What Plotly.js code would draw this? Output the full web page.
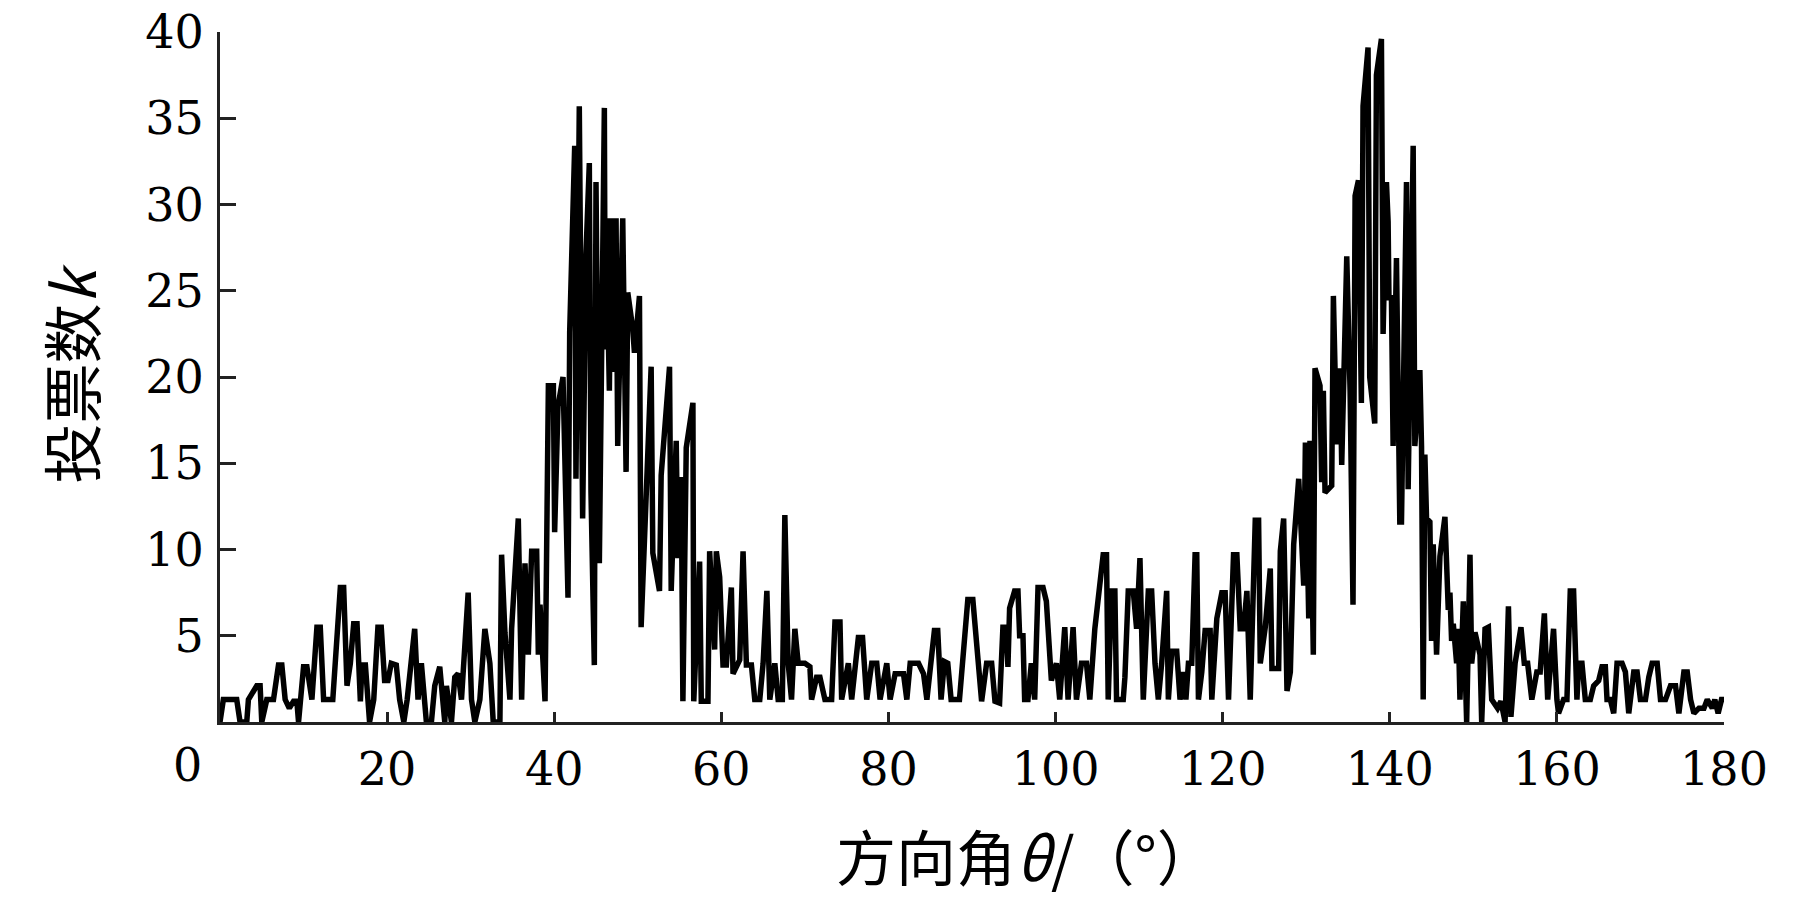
<!DOCTYPE html>
<html>
<head>
<meta charset="utf-8">
<script src="https://cdn.plot.ly/plotly-3.0.1.min.js"></script>
<style>
html,body{margin:0;padding:0;background:#fff;}
#chart{width:1798px;height:904px;}
</style>
</head>
<body>
<div id="chart"></div>
<script>
// Direction angle θ (°)
const angle = [
0,0.4,2.0,2.4,3.2,3.4,4.4,4.8,5.0,5.6,6.4,7.0,7.4,7.8,8.3,8.8,9.2,9.4,10.0,10.4,
11.0,11.6,12.0,12.4,13.0,13.5,14.4,14.8,15.2,15.6,16.0,16.4,16.8,17.0,17.4,17.9,18.4,18.9,19.3,19.7,
20.1,20.5,21.1,21.5,22.0,22.4,23.3,23.7,24.1,24.7,25.3,25.7,26.3,26.9,27.1,27.7,28.1,28.5,28.9,29.7,
30.1,30.5,31.1,31.7,32.3,32.7,33.5,33.7,34.1,34.7,34.9,35.7,36.1,36.5,36.9,37.3,37.9,38.1,38.3,38.9,
39.3,39.9,40.05,40.45,41.05,41.65,41.85,42.45,42.6,43.0,43.4,43.8,44.2,44.4,44.8,45.0,45.4,46.0,46.1,46.2,
46.6,46.8,47.2,47.4,47.6,48.2,48.6,48.8,49.4,49.6,50.2,50.4,51.6,51.8,52.6,52.8,53.8,54.0,54.6,54.8,
55.2,55.4,55.8,56.6,56.7,57.4,57.6,58.4,58.6,59.2,59.4,59.8,60.2,60.6,61.2,61.4,62.2,62.6,63.0,63.6,
64.0,64.6,65.0,65.45,65.8,66.4,66.8,67.3,67.6,68.0,68.4,68.8,69.2,70.0,70.6,70.8,71.4,71.8,72.4,73.2,
73.6,74.2,74.4,75.2,75.6,76.4,76.9,77.4,78.0,78.6,79.0,79.8,80.2,80.8,81.8,82.2,82.6,83.6,84.2,84.6,
85.5,85.9,86.3,86.7,87.1,87.5,88.5,89.5,90.1,90.75,91.15,91.75,92.35,92.75,93.3,93.7,94.1,94.3,94.5,95.1,
95.5,95.7,96.1,96.3,96.7,97.1,97.5,97.9,98.5,98.9,99.5,100.1,100.5,101.1,101.5,102.1,102.5,103.1,103.7,104.1,
104.7,105.7,106.1,106.3,106.7,107.1,107.3,108.1,108.3,108.7,109.3,109.7,110.1,110.5,111.1,111.5,111.9,112.3,112.7,113.3,
113.5,113.9,114.5,114.9,115.3,115.6,115.9,116.3,116.7,116.9,117.1,117.5,117.9,118.5,118.7,119.3,119.9,120.3,120.7,121.3,
121.7,122.1,122.5,122.9,123.3,123.9,124.3,124.5,125.1,125.7,125.9,126.7,126.9,127.3,127.7,128.1,128.5,129.1,129.7,129.9,
130.3,130.45,130.85,131.05,131.65,131.85,132.05,132.25,133.05,133.25,133.65,134.05,134.25,134.85,135.25,135.6,135.7,135.85,136.25,136.6,
136.8,137.4,137.6,138.2,138.4,139.0,139.2,139.6,139.8,139.9,140.2,140.4,140.8,141.2,141.4,142.0,142.2,142.8,143.0,143.6,
143.8,144.0,144.2,144.4,144.8,145.0,145.2,145.6,146.0,146.6,147.0,147.2,147.4,147.6,148.0,148.2,148.4,148.8,149.2,149.6,
149.8,150.2,150.8,151.0,151.4,151.8,152.2,152.9,153.3,153.8,154.2,154.5,155.0,155.7,156.1,156.5,157.0,157.6,158.0,158.5,
158.9,159.6,160.0,160.2,160.8,161.2,161.6,162.0,162.4,162.6,163.0,163.4,164.0,164.4,165.0,165.4,165.8,166.0,166.4,166.8,
167.2,167.8,168.2,168.6,169.2,169.6,170.0,170.6,171.0,171.4,172.0,172.4,173.0,173.6,174.2,174.6,175.2,175.6,176.0,176.4,
177.0,177.6,178.0,178.6,178.9,179.3,179.7,180.0
];
// Vote count k
const votes = [
0,1.3,1.3,0,0,1.3,2.1,2.1,0,1.3,1.3,3.3,3.3,1.3,0.8,1.2,1.2,0,3.2,3.2,
1.3,5.5,5.5,1.3,1.3,1.3,7.8,7.8,2.1,3.4,5.7,5.7,1.2,3.3,3.3,0,1.3,5.5,5.5,2.4,
2.4,3.4,3.3,1.3,0,1.3,5.4,1.3,3.4,0,0,2.1,3.2,0,2.1,0,2.6,2.8,1.3,7.5,
1.3,0,1.3,5.4,3.4,0,0,9.7,5.2,1.3,5.4,11.8,1.3,9.2,3.9,9.9,9.9,3.9,6.8,1.2,
19.5,19.5,11.0,18.3,20.0,7.2,22.6,33.4,14.1,35.7,11.8,27.1,32.4,13.3,3.3,31.3,9.2,35.6,21.6,29.2,
19.2,29.2,20.3,29.2,16.0,29.2,14.5,24.9,22.8,21.4,24.7,5.5,20.6,9.8,7.6,14.3,20.6,7.6,16.3,9.5,
14.2,1.2,15.9,18.5,1.2,9.3,1.2,1.2,9.9,4.2,9.9,8.4,3.3,3.3,7.8,2.8,3.6,9.9,3.3,3.3,
1.3,1.3,3.4,7.6,1.3,3.4,1.3,1.3,12.0,3.4,1.3,5.4,3.4,3.4,3.2,1.3,2.6,2.6,1.3,1.3,
5.8,5.8,1.3,3.4,1.3,4.9,4.9,1.3,3.4,3.4,1.3,3.4,1.3,2.8,2.8,1.3,3.4,3.4,2.8,1.3,
5.3,5.3,1.3,3.5,3.4,1.3,1.3,7.1,7.1,3.4,1.2,3.4,3.4,1.2,1.1,5.5,5.5,3.2,6.6,7.6,
7.6,5.0,5.0,1.3,1.3,3.4,1.3,7.8,7.8,7.0,2.4,3.4,1.3,5.5,1.3,5.5,1.3,3.4,3.4,1.3,
5.4,9.7,9.7,1.3,7.6,7.6,1.3,1.3,2.6,7.6,7.6,5.4,9.5,1.3,7.6,7.6,3.4,1.3,3.4,7.6,
1.3,4.1,4.1,1.3,2.9,1.3,3.4,3.4,9.7,9.7,1.3,2.9,5.3,5.3,1.3,6.0,7.5,7.5,1.3,9.7,
9.7,5.4,5.4,7.6,1.3,11.7,11.7,3.4,5.5,8.9,3.1,3.1,9.9,11.8,1.8,2.9,10.3,14.1,7.9,16.2,
6.0,16.3,3.9,20.5,19.5,13.9,19.2,13.3,13.7,24.7,16.1,20.5,14.9,27.0,19.2,6.8,24.2,30.5,31.4,18.5,
35.7,39.1,20.0,17.3,37.5,39.6,22.5,31.3,29.0,24.6,24.6,16.0,26.9,11.6,11.6,31.3,13.5,33.4,16.0,20.4,
16.0,1.3,15.5,11.8,11.6,4.7,10.3,3.9,9.6,11.9,6.5,7.5,4.7,5.7,3.4,5.4,1.3,7.0,0,9.7,
3.4,5.2,3.9,0,5.4,5.5,1.3,0.8,1.2,0,6.7,0.3,3.4,5.5,3.4,3.4,1.3,2.9,2.9,6.3,
1.3,5.4,1.3,0.5,1.3,1.3,7.6,7.6,1.3,3.4,3.4,1.3,1.3,2.1,2.4,3.2,3.2,1.3,1.3,0.5,
3.4,3.4,2.9,0.5,2.9,2.9,1.3,1.3,2.6,3.4,3.4,1.3,1.3,2.1,2.1,0.5,2.9,2.9,1.3,0.5,
0.8,0.8,1.3,0.8,1.3,0.5,1.3,1.3
];
const xTicks = [0,20,40,60,80,100,120,140,160,180];
const xTickText = ['', '20','40','60','80','100','120','140','160','180'];
const yTicks = [5,10,15,20,25,30,35,40];
const yTickText = ['5','10','15','20','25','30','35','40'];
const xTitle = '方向角<i>θ</i>/（°）';
const yTitle = '投票数<i>k</i>';

const trace = {
  x: angle, y: votes, type: 'scatter', mode: 'lines',
  line: {color: '#000', width: 5.5}, hoverinfo: 'x+y', showlegend: false
};

const tickFont = {family: 'DejaVu Serif, Liberation Serif, serif', size: 46, color: '#000'};
const cjkFont = 'Noto Sans CJK SC, sans-serif';

const layout = {
  width: 1798, height: 904,
  margin: {l: 220, r: 74, t: 32, b: 182, pad: 0},
  paper_bgcolor: '#fff', plot_bgcolor: '#fff',
  xaxis: {
    range: [0, 180], tickvals: xTicks, ticktext: xTickText,
    ticks: 'inside', ticklen: 10, tickwidth: 3, tickcolor: '#222',
    showline: true, linecolor: '#222', linewidth: 3, mirror: false,
    showgrid: false, zeroline: false, tickfont: tickFont,
    ticklabelstandoff: 5
  },
  yaxis: {
    range: [0, 40], tickvals: yTicks, ticktext: yTickText,
    ticks: 'inside', ticklen: 16, tickwidth: 3, tickcolor: '#222',
    showline: true, linecolor: '#222', linewidth: 3, mirror: false,
    showgrid: false, zeroline: false, tickfont: tickFont,
    ticklabelstandoff: 4,
    title: {text: yTitle, font: {family: cjkFont, size: 60, color: '#000'}, standoff: 30}
  },
  annotations: [{
    xref: 'x', yref: 'paper', x: 0, y: 0, text: '0', showarrow: false,
    xanchor: 'center', yanchor: 'top', xshift: -33, yshift: -14,
    font: tickFont
  }, {
    xref: 'paper', yref: 'paper', x: 0.536, y: 0, text: xTitle, showarrow: false,
    xanchor: 'center', yanchor: 'middle', yshift: -132,
    font: {family: cjkFont, size: 60, color: '#000'}
  }]
};

Plotly.newPlot('chart', [trace], layout, {staticPlot: true, displayModeBar: false});
</script>
</body>
</html>
